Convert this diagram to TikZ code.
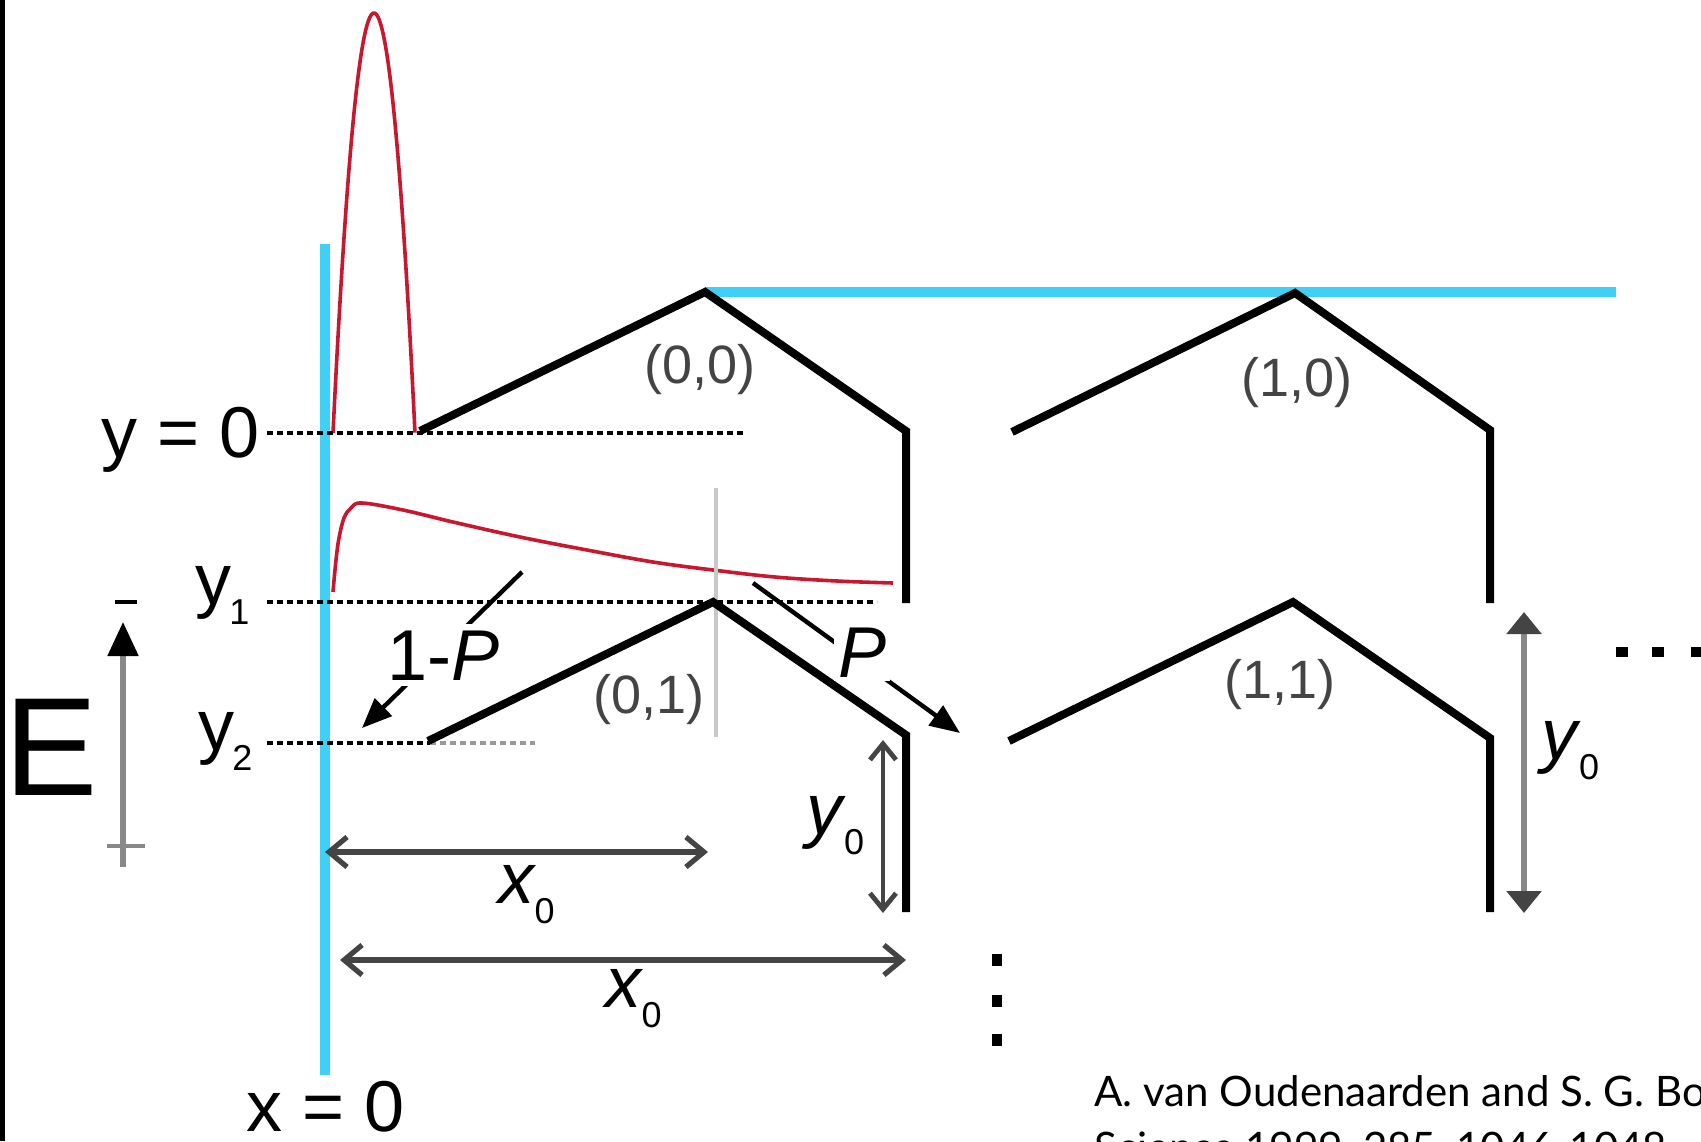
\documentclass[tikz,border=0pt]{standalone}
\usepackage{fontspec}
\setmainfont{Liberation Sans}
\newfontfamily\citefont{Lato}
\usetikzlibrary{arrows.meta}
\definecolor{cyanline}{RGB}{64,208,245}
\definecolor{redcurve}{RGB}{200,24,48}
\definecolor{darkgr}{RGB}{68,68,68}
\definecolor{midgr}{RGB}{136,136,136}
\definecolor{lightgr}{RGB}{200,200,200}
\newcommand{\sublow}[1]{\kern-1pt\raisebox{-10pt}{\fontsize{18}{18}\selectfont #1}}
\begin{document}
\begin{tikzpicture}[x=0.5pt,y=-0.5pt,
  barrier/.style={line width=4pt, black, line join=miter},
  cyanw/.style={line width=5.2pt, cyanline},
  prob/.style={line width=1.8pt, redcurve, line join=round},
  level/.style={line width=2.2pt, black, dash pattern=on 2.75pt off 2.25pt},
  lbl/.style={inner sep=0pt, font=\fontsize{36}{40}\selectfont},
  cell/.style={inner sep=0pt, font=\fontsize{27}{30}\selectfont, text=darkgr},
  dimarrow/.style={line width=2.6pt, darkgr, {Straight Barb[length=9pt,width=15pt]}-{Straight Barb[length=9pt,width=15pt]}},
  dimarrowv/.style={line width=2.4pt, darkgr, {Straight Barb[length=8pt,width=13pt]}-{Straight Barb[length=8pt,width=13pt]}},
  probarrow/.style={line width=2.2pt, black, -{Triangle[length=15pt,width=12pt]}}
]
\useasboundingbox (0,0) rectangle (1701,1141);
\fill[white] (0,0) rectangle (1701,1141);
\fill[black] (0,0) rectangle (5,1141);

% walls (cyan)
\draw[cyanw] (325,244) -- (325,1075);
\draw[cyanw] (705,292) -- (1616,292);

% probability distributions
\draw[prob] plot[domain=-1:1, samples=81, smooth] ({374+41*\x},{433-420*(1-\x*\x)});
\draw[prob] plot[smooth, tension=0.6] coordinates {(333,592) (336,560) (339,538) (344,518) (351,508) (362,503) (403,510) (453,522) (520,537) (587,550) (653,562) (713,570) (775,577) (837,581) (893,583)};

% levels
\draw[level] (267,433) -- (745,433);
\draw[level] (267,602) -- (877,602);
\draw[level] (267,743) -- (430,743);
\draw[level, black!40] (430,743) -- (535,743);

% gray vertical guide
\draw[line width=2.4pt, lightgr] (716,488) -- (716,737);

% barriers
\draw[barrier] (420,431) -- (705,292) -- (906,431) -- (906,603);
\draw[barrier] (1012,432) -- (1295,293) -- (1490,430) -- (1490,603);
\draw[barrier] (428,741) -- (713,602) -- (906,735) -- (906,912);
\draw[barrier] (1009,741) -- (1293,602) -- (1490,738) -- (1490,912);

% cell labels
\node[cell] (c00) at (700,370) {(0,0)};
\node[cell] (c10) at (1297,383) {(1,0)};
\node[cell] (c01) at (649,700) {(0,1)};
\node[cell] (c11) at (1280,685) {(1,1)};

% energy axis
\coordinate (ebot) at (123,867);
\coordinate (etop) at (123,622);
\draw[line width=2.6pt, midgr, -{Triangle[length=17pt,width=15pt,color=black]}] (ebot) -- (etop);
\draw[line width=2pt, midgr] (107,846) -- (145,846);
\draw[line width=2.4pt, black] (115,602) -- (137,602);
\node[inner sep=0pt, font=\fontsize{70}{70}\selectfont, anchor=base west] (elab) at (4,795) {E};

% transition arrows
\coordinate (pa) at (753,583);
\coordinate (pb) at (960,733);
\coordinate (qa) at (522,572);
\coordinate (qb) at (362,728);
\draw[probarrow] (pa) -- (pb);
\draw[probarrow] (qa) -- (qb);
\node[lbl, anchor=base west, fill=white, inner sep=3pt] (omp) at (381,680) {1-\textit{P}};
\node[lbl, anchor=base west, fill=white, inner sep=2pt] (plab) at (834,677) {\textit{P}};

% dimension arrows
\coordinate (xa1) at (325,852);
\coordinate (xb1) at (708,852);
\coordinate (xa2) at (340,960);
\coordinate (xb2) at (906,960);
\coordinate (ya1) at (883,740);
\coordinate (yb1) at (883,913);
\coordinate (ya2) at (1524,612);
\coordinate (yb2) at (1524,913);
\draw[dimarrow] (xa1) -- (xb1);
\draw[dimarrow] (xa2) -- (xb2);
\draw[dimarrowv] (ya1) -- (yb1);
\draw[line width=3.4pt, midgr, {Triangle[length=11pt,width=17pt,color=darkgr]}-{Triangle[length=11pt,width=17pt,color=darkgr]}] (ya2) -- (yb2);

% labels
\node[lbl, anchor=base west] (ylab0) at (101,457) {y = 0};
\node[lbl, anchor=base west] (xlab0) at (246,1131) {x = 0};
\node[lbl, anchor=base west] (ylab1) at (195,604) {y\sublow{1}};
\node[lbl, anchor=base west] (ylab2) at (198,750) {y\sublow{2}};
\node[lbl, anchor=base west] (xd1) at (498,903) {\textit{x}\sublow{0}};
\node[lbl, anchor=base west] (xd2) at (605,1007) {\textit{x}\sublow{0}};
\node[lbl, anchor=base west] (yd1) at (806,834) {\textit{y}\sublow{0}};
\node[lbl, anchor=base west] (yd2) at (1541,759) {\textit{y}\sublow{0}};

% ellipses
\foreach \yy in {960,1001,1040} \fill[black] (992,\yy-6) rectangle (1002,\yy+6);
\foreach \xx in {1622,1658,1697} \fill[black] (\xx-6,647) rectangle (\xx+6,657);

% citation (cut off by the picture's edges, as in the reference)
\begin{scope}
\clip (0,0) rectangle (1701,1141);
\node[anchor=base west, inner sep=0pt, font=\citefont\fontsize{21}{28}\selectfont] (cite1) at (1094,1106) {A. van Oudenaarden and S. G. Boxer};
\node[anchor=base west, inner sep=0pt, font=\citefont\fontsize{21}{28}\selectfont] (cite2) at (1094,1162) {Science 1999, 285, 1046-1048};
\end{scope}
\end{tikzpicture}
\end{document}
